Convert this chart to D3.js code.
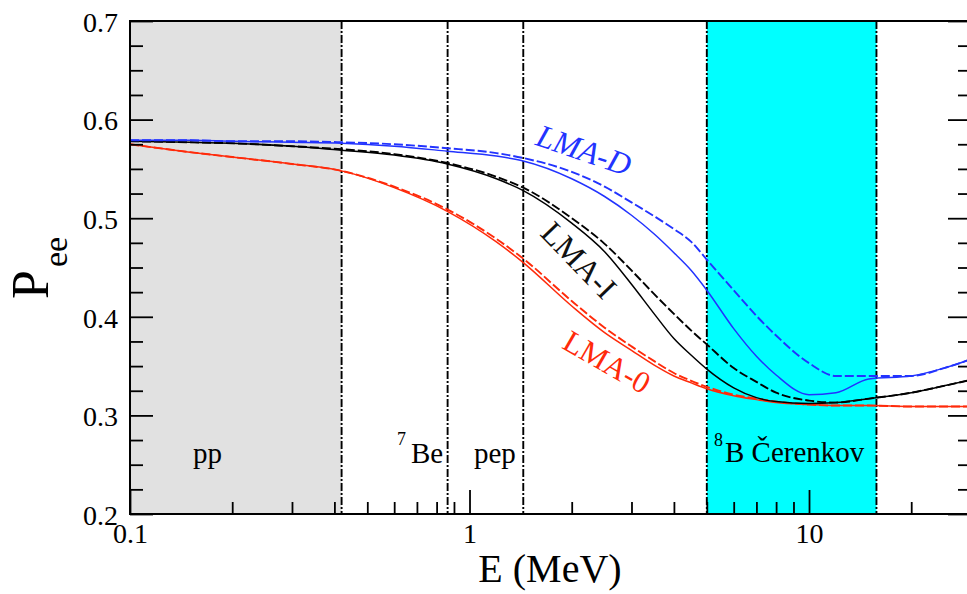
<!DOCTYPE html>
<html><head><meta charset="utf-8">
<script src="https://cdn.jsdelivr.net/npm/d3@7"></script>
<style>
body{margin:0;background:#fff;}
svg{display:block;}
text{font-family:"Liberation Serif","Times New Roman",serif;}
</style>
</head><body>
<svg id="c" width="967" height="594"></svg>
<script>
// ---------- data ----------
const energies = [0.1,0.15,0.2,0.3,0.42,0.6,0.86,1.2,1.44,2,2.5,3,3.5,4,4.5,5,6,7,8,10,12,15,20,25,30];
const lma0Solid  = [.575,.567,.562,.555,.548,.531,.507,.476,.455,.411,.384,.366,.351,.340,.333,.327,.320,.316,.313,.311,.310,.310,.309,.309,.309];
const lma0Dashed = [.575,.567,.562,.555,.548,.532,.509,.479,.459,.416,.389,.370,.355,.343,.335,.329,.321,.317,.314,.311,.310,.310,.309,.309,.309];
const lmaISolid  = [.578,.577,.576,.573,.569,.564,.555,.540,.528,.495,.466,.433,.403,.378,.361,.347,.328,.318,.314,.312,.313,.317,.323,.330,.336];
const lmaIDashed = [.578,.577,.576,.573,.570,.565,.556,.542,.531,.500,.474,.447,.423,.403,.386,.372,.348,.334,.323,.315,.313,.317,.323,.330,.336];
const lmaDSolid  = [.579,.579,.578,.577,.576,.573,.568,.563,.558,.540,.522,.503,.484,.465,.447,.427,.388,.360,.341,.321,.323,.337,.340,.348,.357];
const lmaDDashed = [.579,.579,.578,.578,.577,.575,.571,.566,.561,.547,.532,.516,.502,.489,.476,.458,.427,.401,.381,.353,.340,.340,.340,.348,.357];

const regionEdges = [0.42, 0.862, 1.44, 5, 15.8];   // dash-dot lines
const greyBand = [0.1, 0.42];
const cyanBand = [5, 15.8];

const xMajor = [0.1, 1, 10];
const xTickLabels = ["0.1", "1", "10"];
const xMinor = [0.2,0.3,0.4,0.5,0.6,0.7,0.8,0.9,2,3,4,5,6,7,8,9,20,30];
const yMajor = [0.2,0.3,0.4,0.5,0.6,0.7];
const yTickLabels = ["0.2","0.3","0.4","0.5","0.6","0.7"];
const yMinor = [0.225,0.25,0.275,0.325,0.35,0.375,0.425,0.45,0.475,0.525,0.55,0.575,0.625,0.65,0.675];

const BLUE = "#2233ff", RED = "#ff2a0a", BLACK = "#000";

// ---------- scales ----------
const svg = d3.select("#c");
const x = d3.scaleLog().domain([0.1, 30]).range([130, 971]);
const y = d3.scaleLinear().domain([0.2, 0.7]).range([514, 21]);

// bands
svg.append("rect").attr("x", x(greyBand[0])).attr("y", y(0.7))
  .attr("width", x(greyBand[1]) - x(greyBand[0])).attr("height", y(0.2) - y(0.7))
  .attr("fill", "#e1e1e1");
svg.append("rect").attr("x", x(cyanBand[0])).attr("y", y(0.7))
  .attr("width", x(cyanBand[1]) - x(cyanBand[0])).attr("height", y(0.2) - y(0.7))
  .attr("fill", "#00ffff");

// dash-dot lines
svg.selectAll("line.edge").data(regionEdges).join("line")
  .attr("class","edge")
  .attr("x1", d => x(d)).attr("x2", d => x(d))
  .attr("y1", y(0.7)).attr("y2", y(0.2))
  .attr("stroke", "#000").attr("stroke-width", 1.9)
  .attr("stroke-dasharray", "8,2,2,2");

// curves
const line = d3.line().x((d,i) => x(energies[i])).y(d => y(d)).curve(d3.curveMonotoneX);
const series = [
  {v: lma0Solid,  c: RED,   w: 1.5, dash: null},
  {v: lma0Dashed, c: RED,   w: 1.9, dash: "9,3"},
  {v: lmaISolid,  c: BLACK, w: 1.5, dash: null},
  {v: lmaIDashed, c: BLACK, w: 1.9, dash: "9,3"},
  {v: lmaDSolid,  c: BLUE,  w: 1.5, dash: null},
  {v: lmaDDashed, c: BLUE,  w: 1.9, dash: "9,3"}
];
svg.selectAll("path.curve").data(series).join("path")
  .attr("class","curve")
  .attr("d", d => line(d.v))
  .attr("fill","none")
  .attr("stroke", d => d.c)
  .attr("stroke-width", d => d.w)
  .attr("stroke-dasharray", d => d.dash);

// ---------- axes ----------
const fontFam = '"Liberation Serif","Times New Roman",serif';
const gx = svg.append("g").attr("transform", `translate(0,${y(0.2)})`)
  .call(d3.axisBottom(x).tickValues(xMajor).tickFormat((d,i) => xTickLabels[i])
        .tickSizeInner(-24).tickSizeOuter(0).tickPadding(9));
const gxm = svg.append("g").attr("transform", `translate(0,${y(0.2)})`)
  .call(d3.axisBottom(x).tickValues(xMinor).tickFormat("").tickSizeInner(-12).tickSizeOuter(0));
const gy = svg.append("g").attr("transform", `translate(${x(0.1)},0)`)
  .call(d3.axisLeft(y).tickValues(yMajor).tickFormat((d,i) => yTickLabels[i])
        .tickSizeInner(-23).tickSizeOuter(0).tickPadding(12));
const gym = svg.append("g").attr("transform", `translate(${x(0.1)},0)`)
  .call(d3.axisLeft(y).tickValues(yMinor).tickFormat("").tickSizeInner(-13).tickSizeOuter(0));
const gr = svg.append("g").attr("transform", `translate(${x(30)},0)`)
  .call(d3.axisRight(y).tickValues(yMajor).tickFormat("").tickSizeInner(-23).tickSizeOuter(0));
const grm = svg.append("g").attr("transform", `translate(${x(30)},0)`)
  .call(d3.axisRight(y).tickValues(yMinor).tickFormat("").tickSizeInner(-13).tickSizeOuter(0));

[gx,gxm,gy,gym,gr,grm].forEach(g => {
  g.select(".domain").remove();
  g.selectAll(".tick line").attr("stroke","#000").attr("stroke-width",1.8);
  g.selectAll("text").attr("font-family", fontFam).attr("font-size", 28).attr("fill","#000");
});
gy.selectAll("text").attr("dy","0.37em");
gx.selectAll("text").attr("dy","0.7em");

// frame
svg.append("rect").attr("x", x(0.1)).attr("y", y(0.7))
  .attr("width", x(30) - x(0.1)).attr("height", y(0.2) - y(0.7))
  .attr("fill","none").attr("stroke","#000").attr("stroke-width",2);

// axis titles
svg.append("text").attr("x", 550).attr("y", 582).attr("text-anchor","middle")
  .attr("font-size", 40).text("E (MeV)");
const yt = svg.append("text").attr("transform","translate(48,299) rotate(-90)")
  .attr("font-size", 52);
yt.append("tspan").text("P");
yt.append("tspan").attr("font-size", 34).attr("dy", 19).attr("dx", 3).text("ee");

// region labels
svg.append("text").attr("x",193).attr("y",463).attr("font-size",29).text("pp");
svg.append("text").attr("x",397).attr("y",445).attr("font-size",18).text("7");
svg.append("text").attr("x",411).attr("y",463).attr("font-size",29).text("Be");
svg.append("text").attr("x",474).attr("y",463).attr("font-size",29).text("pep");
svg.append("text").attr("x",714).attr("y",446).attr("font-size",18).text("8");
svg.append("text").attr("x",725).attr("y",462).attr("font-size",29).text("B Čerenkov");

// curve labels
svg.append("text").attr("transform","translate(584,150) rotate(19)")
  .attr("text-anchor","middle").attr("dominant-baseline","central")
  .attr("font-size",32).attr("font-style","italic").attr("fill",BLUE).text("LMA-D");
svg.append("text").attr("transform","translate(579,260) rotate(46)")
  .attr("text-anchor","middle").attr("dominant-baseline","central")
  .attr("font-size",32).attr("fill","#111").text("LMA-I");
svg.append("text").attr("transform","translate(607,362) rotate(30)")
  .attr("text-anchor","middle").attr("dominant-baseline","central")
  .attr("font-size",31).attr("fill",RED).text("LMA-0");
</script>
</body></html>
